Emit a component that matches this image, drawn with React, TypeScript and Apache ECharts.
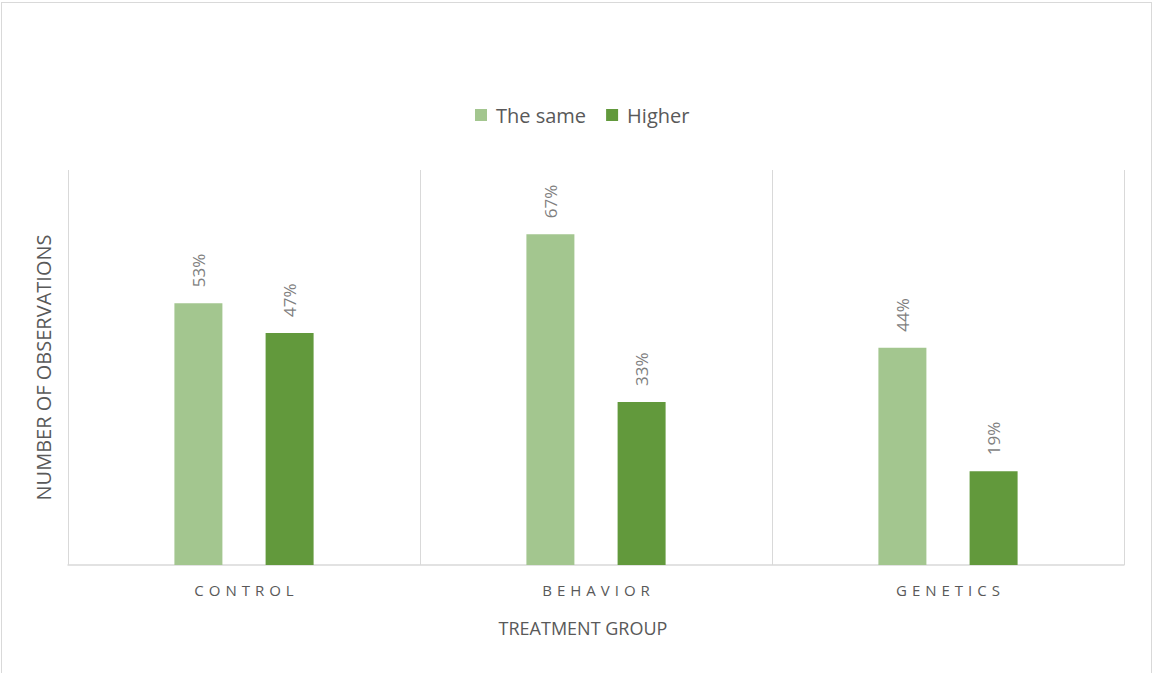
import React, { useEffect, useRef } from "react";
import * as echarts from "echarts";

const categories = ["CONTROL", "BEHAVIOR", "GENETICS"];
const sameValues = [53, 67, 44];
const higherValues = [47, 33, 19];
const seriesNames = ["The same", "Higher"];

export default function App() {
  const ref = useRef<HTMLDivElement>(null);
  useEffect(() => {
    if (!ref.current) return;
    const chart = echarts.init(ref.current, null, { renderer: "svg" });
    const font = "'Open Sans', 'Liberation Sans', sans-serif";
    const label = {
      show: true,
      position: "top",
      rotate: 90,
      align: "left",
      verticalAlign: "middle",
      distance: 16,
      color: "#7f7f7f",
      fontSize: 17,
      fontFamily: font,
      formatter: (p: any) => p.value + "%",
    };
    chart.setOption({
      animation: false,
      legend: {
        top: 100,
        left: 470,
        itemWidth: 12,
        itemHeight: 12,
        itemGap: 20,
        icon: "rect",
        textStyle: { color: "#595959", fontSize: 20, fontFamily: font, padding: [0, 0, 0, 4] },
        data: seriesNames,
      },
      grid: { left: 68, right: 30, top: 170, bottom: 108 },
      xAxis: {
        type: "category",
        data: categories,
        name: "TREATMENT GROUP",
        nameLocation: "middle",
        nameGap: 54,
        nameTextStyle: { color: "#595959", fontSize: 18, fontFamily: font, padding: [0, 26, 0, 0] },
        axisLine: { lineStyle: { color: "#d9d9d9", width: 1.5 } },
        axisTick: { show: false },
        axisLabel: {
          color: "#595959",
          fontSize: 15,
          fontFamily: font,
          margin: 17,
          formatter: (v: string) => v.split("").join("\u2004"),
        },
        splitLine: { show: true, lineStyle: { color: "#d9d9d9", width: 1 } },
      },
      yAxis: {
        type: "value",
        min: 0,
        max: 80,
        name: "NUMBER OF OBSERVATIONS",
        nameLocation: "middle",
        nameGap: 15,
        nameTextStyle: { color: "#595959", fontSize: 20, fontFamily: font },
        axisLine: { show: false },
        axisTick: { show: false },
        axisLabel: { show: false },
        splitLine: { show: false },
      },
      series: [
        {
          name: seriesNames[0],
          type: "bar",
          data: sameValues,
          barWidth: 48,
          barGap: "90%",
          itemStyle: { color: "#a3c68f" },
          label,
        },
        {
          name: seriesNames[1],
          type: "bar",
          data: higherValues,
          barWidth: 48,
          barGap: "90%",
          itemStyle: { color: "#62993c" },
          label,
        },
      ],
    });
    return () => chart.dispose();
  }, []);
  return (
    <div style={{ position: "absolute", left: 0, top: 0, width: 1154, height: 673, overflow: "hidden", background: "#fff" }}>
      <div
        style={{
          position: "absolute",
          left: 1,
          top: 2,
          width: 1151,
          height: 700,
          border: "1px solid #d9d9d9",
          boxSizing: "border-box",
        }}
      />
      <div ref={ref} style={{ position: "absolute", left: 0, top: 0, width: 1154, height: 673 }} />
    </div>
  );
}
